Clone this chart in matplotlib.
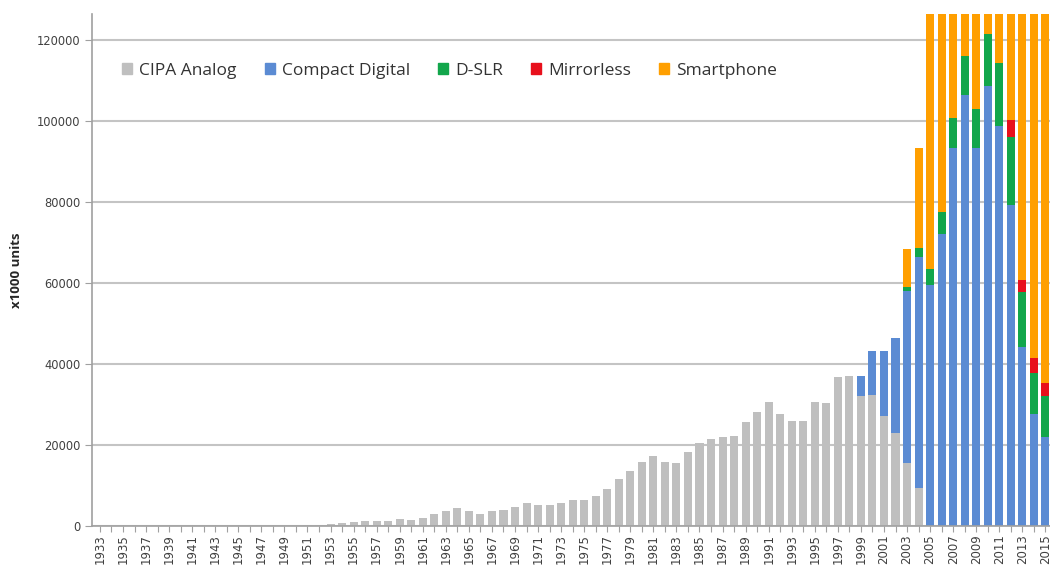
# -*- coding: utf-8 -*-
"""
Camera and smartphone unit shipments per year, stacked bars
"""
import matplotlib
matplotlib.use('Agg')
import matplotlib.pyplot as plt
from matplotlib.patches import Patch
import numpy as np

dpi = 100
fig_kw = dict(figsize=(1050/dpi, 567/dpi), dpi=dpi)

years = np.arange(1933, 2016)

# x1000 units
analog_years = list(range(1951, 2005))
analog = [150, 300, 500, 800, 1000, 1200, 1350, 1300, 1850, 1600,
          2050, 2900, 3650, 4500, 3600, 3000, 3600, 4000, 4700, 5800,
          5100, 5100, 5700, 6300, 6400, 7500, 9100, 11700, 13600, 15700,
          17200, 15700, 15500, 18300, 20500, 21600, 22000, 22200, 25700, 28200,
          30700, 27600, 26000, 26000, 30500, 30300, 36700, 37000, 32000, 32300,
          27100, 22900, 15500, 9500]

compact_years = list(range(1999, 2016))
compact = [5100, 10800, 16000, 23400, 42500, 56800, 59500, 72000, 93300,
           106300, 93300, 108700, 98700, 79200, 44100, 27700, 22000]

dslr_years = list(range(2003, 2016))
dslr = [900, 2400, 3900, 5400, 7500, 9700, 9600, 12800, 15700, 16800,
        13600, 10100, 10000]

mirrorless_years = list(range(2012, 2016))
mirrorless = [4200, 3100, 3600, 3400]

# smartphone bars run off the top of the chart from 2005 on
smartphone_years = list(range(2003, 2016))
smartphone = [9400, 24600, 70000, 80000, 122000, 139000, 172000, 297000,
              472000, 680000, 969000, 1245000, 1424000]

labels = ['CIPA Analog', 'Compact Digital', 'D-SLR', 'Mirrorless', 'Smartphone']
colors = ['#bfbfbf', '#5b8bd3', '#12a64b', '#e8101c', '#ff9f00']


def full(yrs, vals):
    out = np.zeros(len(years))
    for y, v in zip(yrs, vals):
        out[y - years[0]] = v
    return out


series = [full(analog_years, analog), full(compact_years, compact),
          full(dslr_years, dslr), full(mirrorless_years, mirrorless),
          full(smartphone_years, smartphone)]

plt.rcParams['font.family'] = ['Open Sans', 'DejaVu Sans']

fig = plt.figure(**fig_kw)
ax = fig.add_axes([92/1050, 1 - 526/567, 1 - 92/1050, (526 - 14)/567])

bottom = np.zeros(len(years))
for vals, c in zip(series, colors):
    ax.bar(years, vals, bottom=bottom, width=0.7, color=c, zorder=2)
    bottom += vals

ax.set_xlim(1932.31, 2015.4)
ax.set_ylim(0, 126400)
ax.set_yticks(np.arange(0, 120001, 20000))
ax.grid(axis='y', color='#c4c4c4', linewidth=1.5, zorder=0)
ax.set_axisbelow(True)

ax.set_xticks(years)
ax.set_xticklabels([str(y) if y % 2 == 1 else '' for y in years],
                   rotation=90, fontsize=8.5, color='#404040', family='DejaVu Sans')
ax.tick_params(axis='x', length=4, color='#a0a0a0', pad=2)
ax.tick_params(axis='y', length=5, color='#a0a0a0', labelsize=8.3, labelcolor='#404040')
for t in ax.get_yticklabels():
    t.set_family('DejaVu Sans')

for s in ['top', 'right']:
    ax.spines[s].set_visible(False)
for s in ['left', 'bottom']:
    ax.spines[s].set_color('#a0a0a0')
    ax.spines[s].set_linewidth(1.2)

ax.set_ylabel('x1000 units', fontsize=9.5, fontweight='bold', color='#262626', labelpad=10)

handles = [Patch(color=c) for c in colors]
ax.legend(handles, labels, ncol=5, frameon=False, fontsize=12.5,
          loc='upper left', bbox_to_anchor=(0.015, 0.935),
          handlelength=0.6, handleheight=0.6, handletextpad=0.4,
          columnspacing=1.6, labelcolor='#333333')

fig.savefig('out.png')
plt.close(fig)
